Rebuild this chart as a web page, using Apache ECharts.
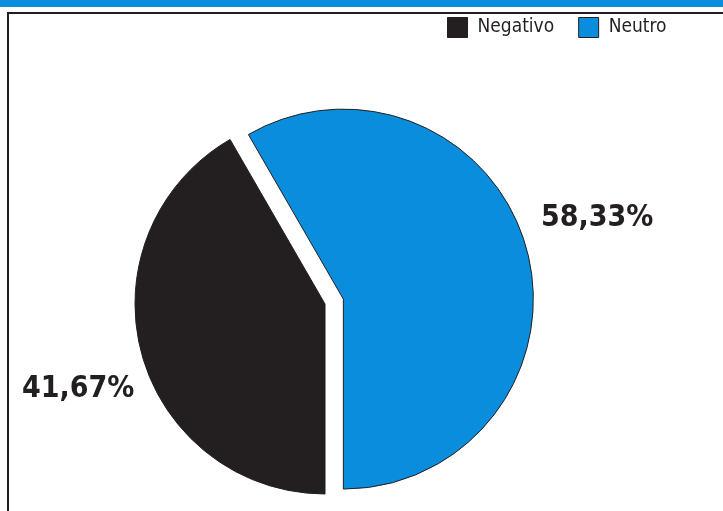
<!DOCTYPE html>
<html>
<head>
<meta charset="utf-8">
<script src="https://cdn.jsdelivr.net/npm/echarts@6/dist/echarts.min.js"></script>
<style>html,body{margin:0;padding:0;background:#fff}#c{width:723px;height:511px}</style>
</head>
<body>
<div id="c"></div>
<script>
const categories = ['Negativo', 'Neutro'];
const values = [41.67, 58.33];
const colors = ['#231f20', '#0a8ddc'];

const fmt = v => v.toFixed(2).replace('.', ',') + '%';
const FONT = '"DejaVu Sans Condensed", "Liberation Sans Narrow", "Liberation Sans", sans-serif';

// each slice drawn by its own pie layer (exploded look); the other slice is left empty
const baseCenter = [325, 304];
const explode = [0, 19];
const labelSpots = [{x: 22, y: 389}, {x: 541, y: 218}];

function sliceSeries(k) {
  const total = values.reduce((a, b) => a + b, 0);
  let before = 0;
  for (let i = 0; i < k; i++) before += values[i];
  const midFrac = (before + values[k] / 2) / total;
  const ang = Math.PI + midFrac * 2 * Math.PI; // clockwise from top, starting at bottom
  const cx = baseCenter[0] + explode[k] * Math.sin(ang);
  const cy = baseCenter[1] - explode[k] * Math.cos(ang);
  return {
    type: 'pie',
    center: [cx, cy],
    radius: 190,
    startAngle: -90,
    clockwise: true,
    silent: true,
    legendHoverLink: false,
    label: {
      show: false,
      position: 'inside',
      overflow: 'none',
      formatter: p => fmt(p.value),
      fontFamily: FONT,
      fontWeight: 'bold',
      fontSize: 30,
      color: '#231f20'
    },
    labelLine: {show: false},
    labelLayout: p => (p.dataIndex === k ? {x: labelSpots[k].x, y: labelSpots[k].y, align: 'left', verticalAlign: 'middle'} : {}),
    emphasis: {disabled: true},
    data: categories.map((c, i) => ({
      name: c,
      value: values[i],
      label: {show: i === k},
      itemStyle: i === k
        ? {color: colors[i], borderColor: '#231f20', borderWidth: 1}
        : {color: 'rgba(0,0,0,0)', borderWidth: 0}
    }))
  };
}

const chart = echarts.init(document.getElementById('c'), null, {renderer: 'canvas'});
chart.setOption({
  backgroundColor: '#ffffff',
  animation: false,
  graphic: [
    {type: 'rect', shape: {x: 0, y: 0, width: 723, height: 7}, style: {fill: '#0a8ddc'}, z: 10},
    {type: 'rect', shape: {x: 8, y: 13, width: 800, height: 600}, style: {fill: 'none', stroke: '#231f20', lineWidth: 2}, z: 10}
  ],
  legend: {
    data: categories.map((c, i) => ({name: c, itemStyle: {color: colors[i], borderColor: '#231f20', borderWidth: 1}})),
    left: 447,
    top: 17,
    padding: 0,
    itemWidth: 20,
    itemHeight: 20,
    itemGap: 24,
    icon: 'rect',
    selectedMode: false,
    textStyle: {fontFamily: FONT, fontSize: 19, color: '#231f20', padding: [0, 0, 0, 5]}
  },
  series: [sliceSeries(0), sliceSeries(1)]
});
</script>
</body>
</html>
